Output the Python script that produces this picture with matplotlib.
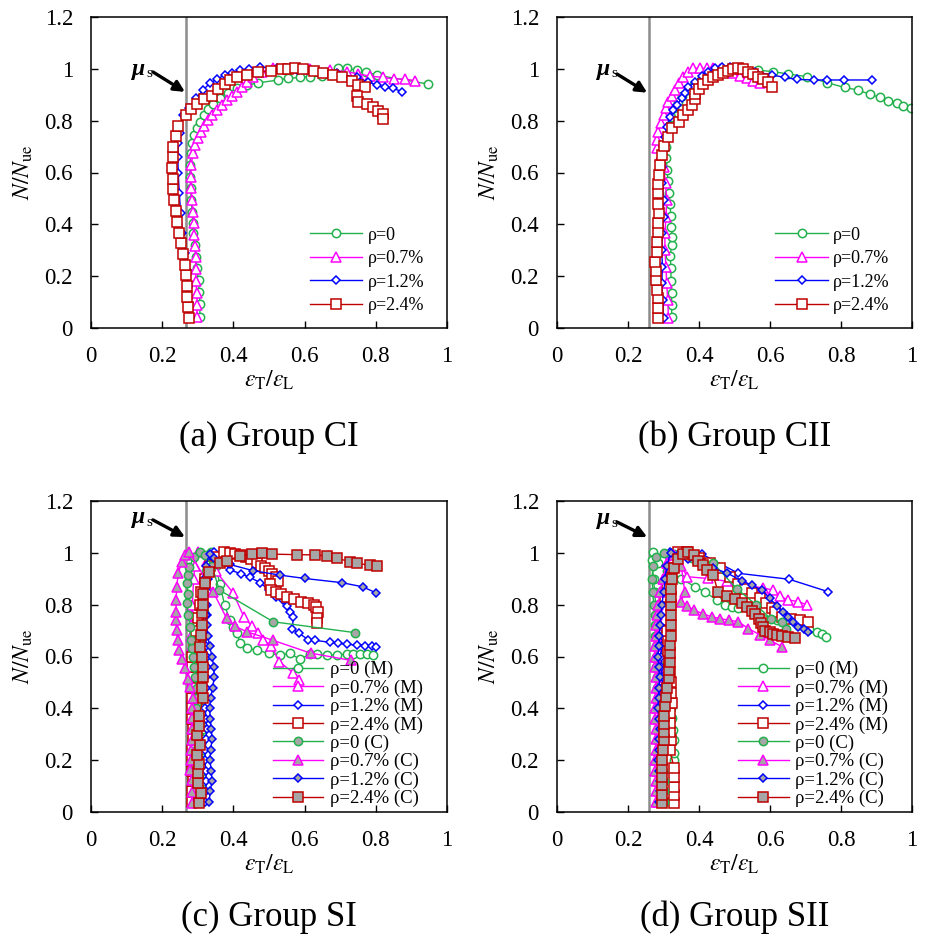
import matplotlib.pyplot as plt
from matplotlib.ticker import FuncFormatter

plt.rcParams['font.family'] = ['Liberation Serif', 'DejaVu Serif']
plt.rcParams['mathtext.fontset'] = 'stix'

# labels
labels4 = ['ρ=0', 'ρ=0.7%', 'ρ=1.2%', 'ρ=2.4%']
labels8 = [s + ' (M)' for s in labels4] + [s + ' (C)' for s in labels4]
captions = ['(a) Group CI', '(b) Group CII', '(c) Group SI', '(d) Group SII']
mu_s = [0.267, 0.26, 0.267, 0.26]
x_ticks = [0, 0.2, 0.4, 0.6, 0.8, 1.0]
y_ticks = [0, 0.2, 0.4, 0.6, 0.8, 1.0, 1.2]

# ---- (a) Group CI ----
a_x0 = [0.306,0.306,0.304,0.302,0.297,0.295,0.291,0.287,0.286,0.284,0.282,0.280,0.278,0.278,0.280,0.285,0.290,0.297,0.306,0.317,0.330,0.344,0.362,0.386,0.409,0.437,0.470,0.526,0.554,0.587,0.615,0.648,0.676,0.695,0.718,0.746,0.772,0.802,0.948]
a_y0 = [0.044,0.093,0.138,0.185,0.230,0.275,0.320,0.365,0.404,0.449,0.494,0.539,0.584,0.629,0.674,0.712,0.745,0.770,0.796,0.822,0.844,0.864,0.886,0.908,0.925,0.937,0.946,0.957,0.963,0.967,0.970,0.972,0.976,1.002,1.002,0.995,0.989,0.976,0.941]
a_x1 = [0.297,0.299,0.297,0.295,0.294,0.294,0.292,0.290,0.288,0.286,0.283,0.281,0.280,0.282,0.286,0.292,0.300,0.309,0.318,0.330,0.341,0.353,0.367,0.381,0.395,0.409,0.423,0.437,0.456,0.479,0.512,0.559,0.615,0.671,0.718,0.751,0.784,0.819,0.851,0.882,0.910]
a_y1 = [0.041,0.089,0.136,0.181,0.226,0.273,0.316,0.359,0.404,0.449,0.494,0.539,0.584,0.629,0.674,0.706,0.732,0.757,0.779,0.802,0.822,0.841,0.860,0.880,0.895,0.912,0.928,0.950,0.970,0.989,1.002,1.002,0.999,0.995,0.989,0.980,0.972,0.967,0.961,0.961,0.954]
a_x2 = [0.278,0.276,0.273,0.269,0.264,0.257,0.252,0.248,0.245,0.244,0.245,0.250,0.258,0.274,0.295,0.315,0.334,0.353,0.376,0.395,0.419,0.445,0.475,0.522,0.578,0.634,0.690,0.746,0.779,0.802,0.826,0.849,0.873]
a_y2 = [0.037,0.095,0.159,0.224,0.288,0.365,0.442,0.520,0.597,0.661,0.712,0.751,0.822,0.847,0.886,0.918,0.945,0.960,0.976,0.985,0.995,1.000,1.006,1.002,0.995,0.989,0.983,0.967,0.950,0.937,0.928,0.925,0.912]
a_x3 = [0.274,0.272,0.271,0.269,0.267,0.263,0.258,0.252,0.246,0.241,0.238,0.234,0.231,0.229,0.228,0.229,0.231,0.239,0.245,0.266,0.281,0.299,0.317,0.339,0.358,0.376,0.390,0.411,0.437,0.470,0.507,0.536,0.554,0.573,0.596,0.625,0.653,0.681,0.704,0.732,0.751,0.770,0.746,0.751,0.774,0.791,0.807,0.819,0.821]
a_y3 = [0.037,0.080,0.121,0.162,0.204,0.243,0.285,0.327,0.368,0.410,0.451,0.494,0.535,0.574,0.616,0.658,0.700,0.741,0.779,0.822,0.844,0.864,0.883,0.895,0.921,0.941,0.957,0.967,0.976,0.986,0.993,0.998,1.000,1.002,0.999,0.993,0.985,0.977,0.967,0.954,0.937,0.928,0.895,0.873,0.864,0.851,0.838,0.826,0.805]

# ---- (b) Group CII ----
b_x0 = [0.323,0.323,0.323,0.321,0.321,0.319,0.323,0.325,0.321,0.320,0.319,0.315,0.313,0.310,0.308,0.308,0.310,0.315,0.322,0.330,0.340,0.352,0.368,0.386,0.405,0.425,0.447,0.470,0.492,0.520,0.567,0.609,0.652,0.703,0.760,0.810,0.849,0.882,0.910,0.933,0.957,0.976,0.997]
b_y0 = [0.044,0.089,0.134,0.182,0.231,0.276,0.321,0.353,0.388,0.431,0.480,0.521,0.566,0.611,0.656,0.700,0.740,0.780,0.815,0.847,0.873,0.896,0.918,0.938,0.955,0.970,0.982,0.992,0.999,1.002,0.995,0.989,0.980,0.970,0.947,0.928,0.918,0.901,0.890,0.877,0.867,0.856,0.850]
b_x1 = [0.314,0.312,0.309,0.307,0.304,0.304,0.307,0.309,0.306,0.300,0.290,0.281,0.281,0.285,0.293,0.300,0.306,0.314,0.323,0.332,0.344,0.356,0.370,0.384,0.403,0.422,0.440,0.459,0.478,0.497,0.515,0.534,0.553,0.572]
b_y1 = [0.037,0.108,0.172,0.237,0.301,0.365,0.430,0.494,0.558,0.622,0.661,0.693,0.725,0.757,0.790,0.822,0.847,0.873,0.895,0.918,0.944,0.967,0.989,1.002,1.002,1.002,1.002,0.999,0.993,0.983,0.972,0.963,0.954,0.944]
b_x2 = [0.300,0.298,0.295,0.297,0.295,0.297,0.300,0.300,0.297,0.297,0.297,0.300,0.304,0.309,0.318,0.328,0.337,0.351,0.361,0.370,0.389,0.408,0.426,0.445,0.464,0.487,0.511,0.558,0.605,0.642,0.675,0.725,0.760,0.809,0.886]
b_y2 = [0.037,0.108,0.172,0.237,0.301,0.365,0.430,0.494,0.558,0.622,0.661,0.700,0.738,0.777,0.815,0.841,0.860,0.886,0.905,0.928,0.950,0.972,0.989,1.002,1.008,1.008,1.002,0.989,0.976,0.967,0.959,0.957,0.957,0.957,0.957]
b_x3 = [0.284,0.284,0.284,0.281,0.279,0.279,0.276,0.281,0.281,0.284,0.285,0.287,0.285,0.285,0.285,0.288,0.290,0.295,0.302,0.312,0.325,0.344,0.356,0.368,0.379,0.389,0.390,0.400,0.412,0.426,0.440,0.454,0.469,0.483,0.497,0.511,0.525,0.539,0.553,0.567,0.581,0.595,0.605]
b_y3 = [0.037,0.076,0.114,0.147,0.185,0.221,0.256,0.294,0.333,0.372,0.406,0.442,0.478,0.520,0.556,0.590,0.629,0.667,0.702,0.738,0.770,0.796,0.822,0.841,0.860,0.882,0.903,0.921,0.941,0.957,0.967,0.976,0.985,0.993,0.998,1.002,0.998,0.989,0.980,0.970,0.959,0.950,0.928]

# ---- (c) Group SI : M then C ----
c_x0m = [0.312,0.314,0.315,0.313,0.311,0.312,0.315,0.316,0.314,0.312,0.310,0.312,0.316,0.318,0.318,0.316,0.314,0.316,0.318,0.320,0.322,0.328,0.338,0.350,0.362,0.375,0.390,0.400,0.410,0.419,0.437,0.466,0.499,0.530,0.559,0.587,0.615,0.634,0.662,0.690,0.718,0.737,0.756,0.774,0.793]
c_y0m = [0.040,0.080,0.120,0.160,0.200,0.240,0.280,0.320,0.360,0.400,0.440,0.480,0.520,0.560,0.600,0.640,0.680,0.720,0.770,0.850,0.930,0.990,1.004,0.950,0.880,0.800,0.740,0.715,0.689,0.651,0.631,0.625,0.612,0.606,0.612,0.589,0.610,0.610,0.606,0.606,0.610,0.610,0.610,0.610,0.606]
c_x1m = [0.285,0.287,0.288,0.286,0.284,0.285,0.287,0.288,0.286,0.284,0.285,0.287,0.288,0.286,0.284,0.283,0.282,0.282,0.283,0.285,0.288,0.292,0.300,0.325,0.350,0.400,0.430,0.451,0.470,0.484,0.507,0.529,0.567,0.585]
c_y1m = [0.040,0.080,0.120,0.160,0.200,0.240,0.280,0.320,0.360,0.400,0.440,0.480,0.520,0.560,0.600,0.640,0.680,0.720,0.760,0.800,0.900,0.950,1.004,0.970,0.930,0.844,0.751,0.719,0.692,0.664,0.640,0.580,0.538,0.509]
c_x2m = [0.320,0.322,0.324,0.322,0.320,0.321,0.323,0.325,0.323,0.321,0.320,0.322,0.324,0.326,0.325,0.323,0.322,0.323,0.325,0.326,0.328,0.330,0.335,0.345,0.358,0.390,0.420,0.447,0.475,0.500,0.520,0.540,0.550,0.560,0.568,0.566,0.585,0.610,0.630,0.671,0.695,0.718,0.746,0.770,0.788,0.800]
c_y2m = [0.040,0.080,0.120,0.160,0.200,0.240,0.280,0.320,0.360,0.400,0.440,0.480,0.520,0.560,0.600,0.640,0.680,0.720,0.760,0.800,0.850,0.900,0.960,1.004,0.988,0.934,0.920,0.905,0.885,0.856,0.830,0.818,0.795,0.773,0.751,0.705,0.689,0.665,0.662,0.655,0.651,0.647,0.644,0.642,0.642,0.638]
c_x3m = [0.283,0.285,0.287,0.285,0.283,0.284,0.286,0.287,0.285,0.283,0.284,0.286,0.287,0.285,0.285,0.290,0.295,0.300,0.305,0.310,0.320,0.335,0.355,0.374,0.390,0.405,0.420,0.435,0.450,0.465,0.478,0.490,0.500,0.508,0.520,0.525,0.503,0.507,0.520,0.535,0.550,0.570,0.590,0.610,0.625,0.633,0.637,0.636,0.634]
c_y3m = [0.040,0.080,0.120,0.160,0.200,0.240,0.280,0.320,0.360,0.400,0.440,0.480,0.520,0.560,0.600,0.650,0.700,0.750,0.800,0.850,0.900,0.950,0.985,1.004,0.998,0.996,0.992,0.985,0.975,0.962,0.950,0.940,0.930,0.920,0.905,0.890,0.880,0.857,0.850,0.840,0.830,0.820,0.812,0.806,0.800,0.790,0.770,0.750,0.730]
c_x0c = [0.292,0.295,0.293,0.290,0.292,0.295,0.293,0.290,0.292,0.295,0.296,0.297,0.293,0.290,0.287,0.283,0.280,0.278,0.273,0.269,0.273,0.269,0.273,0.276,0.290,0.305,0.320,0.340,0.360,0.512,0.742]
c_y0c = [0.040,0.080,0.120,0.160,0.200,0.240,0.280,0.320,0.360,0.400,0.440,0.480,0.520,0.560,0.600,0.631,0.663,0.715,0.760,0.805,0.843,0.882,0.915,0.946,0.985,1.004,0.990,0.950,0.857,0.734,0.692]
c_x1c = [0.283,0.285,0.283,0.278,0.280,0.280,0.283,0.283,0.283,0.285,0.287,0.278,0.273,0.264,0.255,0.248,0.243,0.241,0.239,0.239,0.239,0.241,0.245,0.255,0.265,0.275,0.343,0.381,0.404,0.437,0.510,0.617,0.730]
c_y1c = [0.035,0.077,0.122,0.161,0.200,0.238,0.277,0.322,0.361,0.400,0.438,0.484,0.515,0.554,0.590,0.625,0.664,0.702,0.741,0.773,0.818,0.869,0.921,0.965,0.990,1.005,0.850,0.747,0.717,0.696,0.663,0.613,0.585]
c_x2c = [0.332,0.335,0.340,0.338,0.334,0.336,0.340,0.338,0.335,0.333,0.336,0.342,0.346,0.345,0.340,0.333,0.328,0.325,0.323,0.320,0.318,0.318,0.322,0.333,0.345,0.390,0.456,0.531,0.601,0.704,0.763,0.800]
c_y2c = [0.040,0.080,0.120,0.160,0.200,0.240,0.280,0.320,0.360,0.400,0.440,0.480,0.520,0.560,0.600,0.640,0.680,0.720,0.760,0.800,0.850,0.900,0.950,0.995,0.980,0.955,0.931,0.914,0.901,0.885,0.869,0.846]
c_x3c = [0.304,0.309,0.301,0.301,0.304,0.299,0.306,0.298,0.304,0.304,0.315,0.312,0.315,0.315,0.311,0.306,0.308,0.311,0.313,0.315,0.315,0.320,0.332,0.362,0.381,0.418,0.452,0.480,0.508,0.578,0.630,0.662,0.690,0.728,0.746,0.784,0.804]
c_y3c = [0.034,0.072,0.110,0.149,0.185,0.220,0.258,0.297,0.332,0.371,0.438,0.480,0.519,0.561,0.599,0.638,0.683,0.721,0.766,0.799,0.843,0.882,0.927,0.960,0.970,0.988,0.995,0.998,0.995,0.993,0.992,0.988,0.979,0.966,0.959,0.953,0.949]

# ---- (d) Group SII : M then C ----
d_x0m = [0.325,0.327,0.329,0.330,0.330,0.330,0.330,0.328,0.325,0.320,0.315,0.310,0.305,0.300,0.296,0.292,0.288,0.285,0.282,0.278,0.275,0.272,0.267,0.271,0.285,0.310,0.350,0.389,0.417,0.450,0.473,0.492,0.511,0.560,0.620,0.680,0.710,0.731,0.746,0.757]
d_y0m = [0.040,0.080,0.120,0.160,0.200,0.226,0.277,0.316,0.361,0.400,0.440,0.480,0.520,0.560,0.600,0.640,0.680,0.720,0.760,0.800,0.850,0.900,0.972,1.004,0.960,0.930,0.900,0.869,0.849,0.818,0.800,0.792,0.786,0.770,0.740,0.720,0.705,0.696,0.687,0.676]
d_x1m = [0.285,0.287,0.286,0.284,0.283,0.285,0.287,0.286,0.284,0.283,0.285,0.287,0.286,0.284,0.283,0.284,0.285,0.287,0.290,0.293,0.297,0.302,0.310,0.340,0.365,0.426,0.480,0.530,0.580,0.609,0.628,0.651,0.680,0.704]
d_y1m = [0.040,0.080,0.120,0.160,0.200,0.240,0.280,0.320,0.360,0.400,0.440,0.480,0.520,0.560,0.600,0.640,0.680,0.720,0.760,0.800,0.850,0.900,0.960,0.995,0.908,0.901,0.890,0.875,0.865,0.856,0.833,0.818,0.812,0.799]
d_x2m = [0.295,0.297,0.296,0.294,0.293,0.295,0.297,0.296,0.294,0.293,0.295,0.297,0.296,0.294,0.293,0.294,0.295,0.297,0.298,0.300,0.302,0.304,0.306,0.310,0.318,0.332,0.408,0.511,0.654,0.764]
d_y2m = [0.040,0.080,0.120,0.160,0.200,0.240,0.280,0.320,0.360,0.400,0.440,0.480,0.520,0.560,0.600,0.640,0.680,0.720,0.760,0.800,0.850,0.900,0.950,0.990,1.004,0.998,0.995,0.921,0.898,0.850]
d_x3m = [0.330,0.330,0.330,0.330,0.330,0.318,0.320,0.318,0.318,0.318,0.323,0.322,0.320,0.318,0.316,0.314,0.312,0.310,0.308,0.306,0.305,0.310,0.325,0.342,0.365,0.400,0.430,0.459,0.488,0.510,0.529,0.550,0.572,0.590,0.605,0.615,0.634,0.660,0.685,0.708]
d_y3m = [0.033,0.065,0.098,0.136,0.168,0.239,0.277,0.310,0.342,0.381,0.420,0.460,0.500,0.540,0.580,0.620,0.660,0.700,0.740,0.780,0.830,0.880,0.940,1.002,1.002,0.980,0.960,0.940,0.905,0.880,0.862,0.845,0.824,0.805,0.786,0.770,0.753,0.745,0.740,0.734]
d_x0c = [0.300,0.302,0.300,0.298,0.296,0.295,0.293,0.291,0.289,0.287,0.285,0.283,0.281,0.280,0.279,0.278,0.277,0.276,0.275,0.272,0.270,0.268,0.270,0.280,0.300,0.330,0.380,0.440,0.506,0.560,0.604,0.633,0.645,0.652]
d_y0c = [0.040,0.080,0.120,0.160,0.200,0.240,0.280,0.320,0.360,0.400,0.440,0.480,0.520,0.560,0.600,0.640,0.680,0.720,0.760,0.800,0.850,0.900,0.950,0.985,1.000,0.995,0.980,0.960,0.862,0.800,0.743,0.734,0.705,0.676]
d_x1c = [0.278,0.280,0.279,0.277,0.276,0.278,0.280,0.279,0.277,0.276,0.278,0.280,0.279,0.277,0.276,0.277,0.278,0.280,0.282,0.285,0.290,0.298,0.310,0.330,0.350,0.360,0.350,0.365,0.385,0.410,0.436,0.460,0.485,0.511,0.539,0.572,0.600,0.633]
d_y1c = [0.040,0.080,0.120,0.160,0.200,0.240,0.280,0.320,0.360,0.400,0.440,0.480,0.520,0.560,0.600,0.640,0.680,0.720,0.760,0.800,0.850,0.900,0.960,0.990,0.950,0.850,0.811,0.795,0.780,0.765,0.753,0.746,0.740,0.734,0.708,0.683,0.663,0.638]
d_x2c = [0.288,0.290,0.289,0.287,0.285,0.286,0.288,0.289,0.287,0.285,0.286,0.288,0.289,0.287,0.285,0.286,0.288,0.290,0.293,0.296,0.300,0.305,0.310,0.320,0.340,0.370,0.410,0.440,0.478,0.520,0.550,0.577,0.600,0.619,0.638,0.652,0.666,0.680,0.695,0.708]
d_y2c = [0.040,0.080,0.120,0.160,0.200,0.240,0.280,0.320,0.360,0.400,0.440,0.480,0.520,0.560,0.600,0.640,0.680,0.720,0.760,0.800,0.850,0.900,0.950,1.000,0.990,0.975,0.960,0.940,0.923,0.892,0.875,0.856,0.824,0.795,0.773,0.754,0.735,0.715,0.705,0.696]
d_x3c = [0.297,0.297,0.297,0.297,0.297,0.297,0.298,0.300,0.300,0.300,0.300,0.305,0.307,0.310,0.315,0.316,0.318,0.318,0.318,0.320,0.321,0.321,0.321,0.321,0.322,0.325,0.330,0.340,0.355,0.370,0.385,0.398,0.410,0.422,0.440,0.454,0.480,0.501,0.520,0.534,0.550,0.558,0.570,0.575,0.580,0.586,0.600,0.609,0.620,0.633,0.650,0.670]
d_y3c = [0.034,0.065,0.104,0.136,0.168,0.200,0.239,0.277,0.310,0.340,0.371,0.410,0.445,0.477,0.516,0.548,0.580,0.612,0.644,0.680,0.720,0.760,0.800,0.830,0.860,0.900,0.940,0.975,0.995,1.002,0.990,0.970,0.953,0.935,0.915,0.847,0.835,0.822,0.805,0.790,0.775,0.764,0.745,0.730,0.715,0.700,0.693,0.687,0.683,0.680,0.677,0.672]

# styles per rho level
colors = ['#22b14c', '#ff00ff', '#0000ff', '#c00000']
markers = ['o', '^', 'D', 's']
msizes = [6, 6.5, 4.2, 7]
gray = '#a6a6a6'

W, H = 925, 941
fig = plt.figure(figsize=(W / 100, H / 100), dpi=100)

def px_axes(left, top, right, bottom):
    return fig.add_axes([left / W, 1 - bottom / H, (right - left) / W, (bottom - top) / H])

axs = [px_axes(91, 17, 447, 328), px_axes(557, 17, 912, 328),
       px_axes(91, 501, 447, 812), px_axes(557, 501, 912, 812)]

fmt = FuncFormatter(lambda v, p: '%g' % round(v, 1))

for i, ax in enumerate(axs):
    ax.set_xlim(0, 1)
    ax.set_ylim(0, 1.2)
    ax.set_xticks(x_ticks)
    ax.set_yticks(y_ticks)
    ax.xaxis.set_major_formatter(fmt)
    ax.yaxis.set_major_formatter(fmt)
    ax.tick_params(direction='in', length=5, width=1, labelsize=16.5, pad=13)
    for sp in ax.spines.values():
        sp.set_linewidth(1.1)
    ax.set_xlabel(r'$\varepsilon_{\rm T}/\varepsilon_{\rm L}$', fontsize=17, labelpad=1)
    ax.set_ylabel(r'$N/N_{\rm ue}$', fontsize=17, labelpad=7)
    ax.axvline(mu_s[i], color='#8c8c8c', lw=1.8, zorder=1)

# panels a, b: four open-marker series each
group_ab = [
    [(a_x0, a_y0), (a_x1, a_y1), (a_x2, a_y2), (a_x3, a_y3)],
    [(b_x0, b_y0), (b_x1, b_y1), (b_x2, b_y2), (b_x3, b_y3)],
]
for ax, series in zip(axs[:2], group_ab):
    for k, (xs, ys) in enumerate(series):
        ax.plot(xs, ys, color=colors[k], lw=1.0, marker=markers[k], ms=msizes[k],
                mfc='white', mec=colors[k], mew=1.1, label=labels4[k])
    ax.legend(loc='lower left', bbox_to_anchor=(0.615, 0.045), frameon=False, fontsize=13,
              handlelength=2.9, handletextpad=0.3, labelspacing=0.36, borderpad=0, borderaxespad=0)

# panels c, d: monotonic (M, open) and cyclic (C, gray filled)
group_cd = [
    [(c_x0m, c_y0m), (c_x1m, c_y1m), (c_x2m, c_y2m), (c_x3m, c_y3m),
     (c_x0c, c_y0c), (c_x1c, c_y1c), (c_x2c, c_y2c), (c_x3c, c_y3c)],
    [(d_x0m, d_y0m), (d_x1m, d_y1m), (d_x2m, d_y2m), (d_x3m, d_y3m),
     (d_x0c, d_y0c), (d_x1c, d_y1c), (d_x2c, d_y2c), (d_x3c, d_y3c)],
]
for ax, series in zip(axs[2:], group_cd):
    for k, (xs, ys) in enumerate(series):
        j = k % 4
        face = 'white' if k < 4 else gray
        ax.plot(xs, ys, color=colors[j], lw=1.0, marker=markers[j], ms=msizes[j],
                mfc=face, mec=colors[j], mew=1.1, label=labels8[k])
    ax.legend(loc='lower left', bbox_to_anchor=(0.51, 0.015), frameon=False, fontsize=13.5,
              handlelength=2.7, handletextpad=0.35, labelspacing=0.06, borderpad=0, borderaxespad=0)

# mu_s arrows: (text x, text y, tail, head)
mu_pos = [(0.153, 0.978, (0.174, 0.988), (0.264, 0.911)),
          (0.149, 0.978, (0.169, 0.980), (0.254, 0.908)),
          (0.153, 1.115, (0.174, 1.127), (0.264, 1.061)),
          (0.149, 1.110, (0.169, 1.119), (0.254, 1.061))]
for ax, (tx, ty, tail, head) in zip(axs, mu_pos):
    ax.annotate('', xy=head, xytext=tail,
                arrowprops=dict(arrowstyle='-|>', color='k', lw=2.4, mutation_scale=16,
                                shrinkA=0, shrinkB=0))
    ax.text(tx, ty, 'μ', fontsize=17, fontweight='bold', style='italic', ha='right', va='baseline')
    ax.text(tx + 0.003, ty - 0.01, 's', fontsize=11, ha='left', va='baseline')

cap_pos = [(269, 437), (735, 437), (269, 917), (735, 917)]
for (cx, cy), cap in zip(cap_pos, captions):
    fig.text(cx / W, 1 - cy / H, cap, fontsize=25, ha='center', va='center')

fig.savefig('out.png', dpi=100)
